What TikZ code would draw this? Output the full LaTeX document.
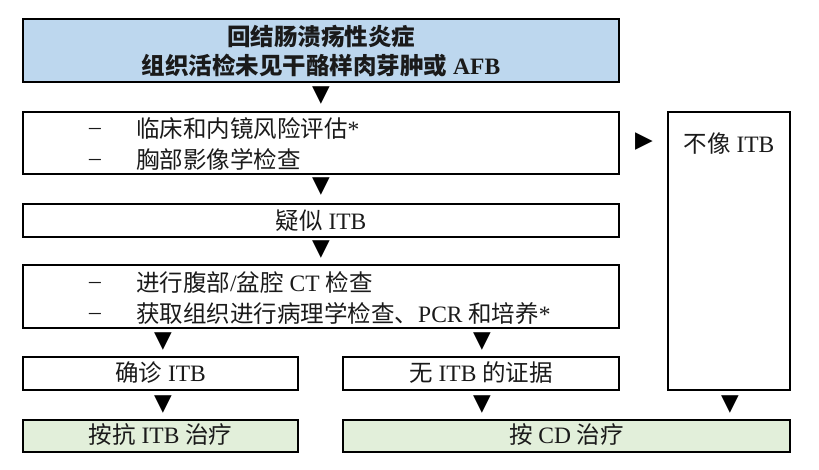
\documentclass[tikz,border=0pt]{standalone}
\usepackage{fontspec}
\setmainfont{Liberation Serif}
\newfontfamily\cjk{Noto Sans CJK SC}
\newfontfamily\sym{DejaVu Sans}
\definecolor{topblue}{HTML}{BDD7EE}
\definecolor{greenbox}{HTML}{E2EFDA}
\definecolor{txt}{HTML}{1A1A1A}
\begin{document}
\begin{tikzpicture}[x=1pt,y=-1pt,
  box/.style={draw=black,line width=1.6pt,inner sep=0pt,text=txt},
  lbl/.style={inner sep=0pt,text=txt,anchor=base,font=\fontsize{23.5}{28}\selectfont},
  lbll/.style={lbl,anchor=base west},
  tri/.style={inner sep=0pt,font=\sym\fontsize{23}{23}\selectfont},
]
\useasboundingbox (0,0) rectangle (819,469);
% top box
\node[box,fill=topblue,minimum width=596,minimum height=63] (top) at (321,50.5) {};
\node[lbl,font=\bfseries\fontsize{23.5}{28}\selectfont] (t1) at (321,45) {{\cjk\bfseries 回结肠溃疡性炎症}};
\node[lbl,font=\bfseries\fontsize{23.5}{28}\selectfont] (t2) at (321,74) {{\cjk\bfseries 组织活检未见干酪样肉芽肿或} AFB};
\node[tri] (a1) at (321,96) {▼};
% box 2
\node[box,minimum width=596,minimum height=62] (b2) at (321,143) {};
\node[lbll] (d1) at (89,134) {–};
\node[lbll] (l1) at (136,137) {{\cjk 临床和内镜风险评估}*};
\node[lbll] (d2) at (89,165) {–};
\node[lbll] (l2) at (136,168) {{\cjk 胸部影像学检查}};
\node[tri] (ar) at (644,142) {▶};
% right box
\node[box,minimum width=122,minimum height=278] (nr) at (729,251) {};
\node[lbl] (nrt) at (729,152) {{\cjk 不像} ITB};
\node[tri] (a2) at (321,187) {▼};
% box 3
\node[box,minimum width=596,minimum height=33] (b3) at (321,220.5) {};
\node[lbl] (b3t) at (321,229) {{\cjk 疑似} ITB};
\node[tri] (a3) at (321,250) {▼};
% box 4
\node[box,minimum width=596,minimum height=63] (b4) at (321,296.5) {};
\node[lbll] (d3) at (89,288) {–};
\node[lbll] (l3) at (136,291) {{\cjk 进行腹部}/{\cjk 盆腔} CT {\cjk 检查}};
\node[lbll] (d4) at (89,319) {–};
\node[lbll] (l4) at (136,322) {{\cjk 获取组织进行病理学检查、}PCR {\cjk 和培养}*};
\node[tri] (a4) at (163,342) {▼};
\node[tri] (a5) at (482,342) {▼};
% box 5 and 6
\node[box,minimum width=275,minimum height=33] (b5) at (160.5,373.5) {};
\node[lbl] (b5t) at (160.5,381.5) {{\cjk 确诊} ITB};
\node[box,minimum width=276,minimum height=33] (b6) at (481,373.5) {};
\node[lbl] (b6t) at (481,381.5) {{\cjk 无} ITB {\cjk 的证据}};
\node[tri] (a6) at (163,405) {▼};
\node[tri] (a7) at (482,405) {▼};
\node[tri] (a8) at (730,405) {▼};
% green boxes
\node[box,fill=greenbox,minimum width=275,minimum height=32] (g1) at (160.5,436) {};
\node[lbl] (g1t) at (160.5,443.5) {{\cjk 按抗} ITB {\cjk 治疗}};
\node[box,fill=greenbox,minimum width=447,minimum height=32] (g2) at (566.5,436) {};
\node[lbl] (g2t) at (566.5,443.5) {{\cjk 按} CD {\cjk 治疗}};
\end{tikzpicture}
\end{document}
